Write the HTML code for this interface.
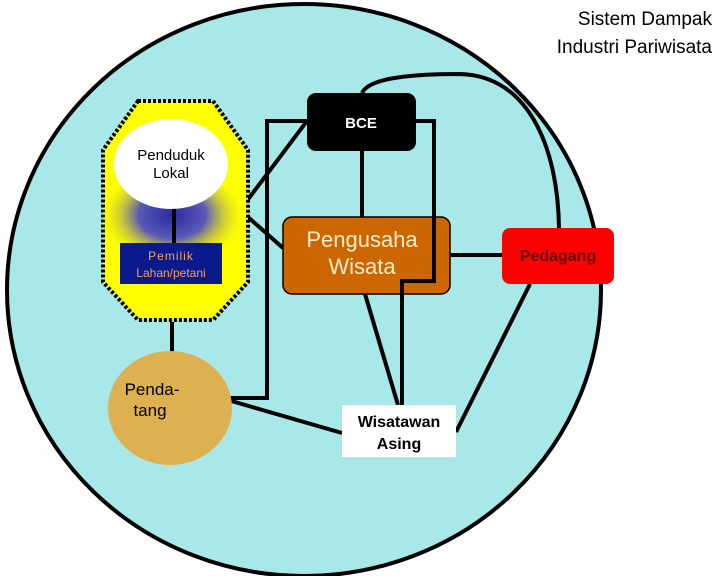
<!DOCTYPE html>
<html><head><meta charset="utf-8"><style>
html,body{margin:0;padding:0;background:#fff;}
svg{display:block;font-family:"Liberation Sans",Arial,sans-serif;}
</style></head><body>
<svg width="720" height="576" viewBox="0 0 720 576" xmlns="http://www.w3.org/2000/svg">
<defs>
<radialGradient id="bl" cx="172" cy="215" r="75" gradientUnits="userSpaceOnUse" gradientTransform="translate(172 215) scale(1 0.7) translate(-172 -215)">
<stop offset="0" stop-color="#2a2aa0"/><stop offset="0.45" stop-color="#5a5ab8"/><stop offset="1" stop-color="#ffff00" stop-opacity="0"/>
</radialGradient>
</defs>
<ellipse cx="304" cy="290" rx="297" ry="286" fill="#a8e8e8" stroke="#000" stroke-width="4"/>
<text x="712" y="25" font-size="19" text-anchor="end">Sistem Dampak</text>
<text x="712" y="53" font-size="19" text-anchor="end">Industri Pariwisata</text>
<g stroke="#000" stroke-width="4" fill="none">
<path d="M362 93 C368 80 400 74 460 74 C530 76 558 150 559 228"/>
<path d="M307 121 H267 V398 H228"/>
<path d="M416 121 H434 V281 H402 V406"/>
<path d="M362 151 V217"/>
<path d="M240 210 L307 121 M240 210 L283 248"/>
<path d="M450 255 H502"/>
<path d="M365 294 L398 405"/>
<path d="M228 400 L342 433"/>
<path d="M530 284 L456 432"/>
<path d="M172 322 V370"/>
</g>
<polygon points="138,101 213,101 248,150 248,282 213,320 138,320 103,282 103,150" fill="#ffff00" stroke="#000" stroke-width="4" stroke-dasharray="3,2"/>
<ellipse cx="172" cy="225" rx="72" ry="55" fill="url(#bl)"/>
<line x1="174" y1="205" x2="174" y2="243" stroke="#000" stroke-width="4"/>
<ellipse cx="171" cy="164" rx="57" ry="45" fill="#fff"/>
<text x="171" y="160" font-size="15" text-anchor="middle">Penduduk</text>
<text x="171" y="178" font-size="15" text-anchor="middle">Lokal</text>
<rect x="120" y="243" width="102" height="41" fill="#0a1a8a"/>
<text x="171" y="260" font-size="12" fill="#f0a060" text-anchor="middle" letter-spacing="1">Pemilik</text>
<text x="171" y="277" font-size="12" fill="#f0a060" text-anchor="middle">Lahan/petani</text>
<rect x="307" y="93" width="109" height="58" rx="9" fill="#000"/>
<text x="361" y="128" font-size="15" font-weight="bold" fill="#fff" text-anchor="middle">BCE</text>
<rect x="283" y="217" width="167" height="77" rx="9" fill="#cc6600" stroke="#000" stroke-width="1.5"/>
<path d="M434 217 V281 H402 V294" stroke="#000" stroke-width="4" fill="none"/>
<text x="362" y="247" font-size="22" fill="#ffeecc" text-anchor="middle">Pengusaha</text>
<text x="362" y="274" font-size="22" fill="#ffeecc" text-anchor="middle">Wisata</text>
<rect x="502" y="228" width="112" height="56" rx="8" fill="#ff0000"/>
<text x="558" y="261" font-size="16" font-weight="bold" fill="#600" text-anchor="middle">Pedagang</text>
<ellipse cx="170" cy="408" rx="62" ry="57" fill="#ddb050"/>
<text x="152" y="395" font-size="17" text-anchor="middle">Penda-</text>
<text x="150" y="416" font-size="17" text-anchor="middle">tang</text>
<rect x="342" y="405" width="114" height="52" fill="#fff"/>
<text x="399" y="427" font-size="16" font-weight="bold" text-anchor="middle">Wisatawan</text>
<text x="399" y="449" font-size="16" font-weight="bold" text-anchor="middle">Asing</text>
</svg>
</body></html>
